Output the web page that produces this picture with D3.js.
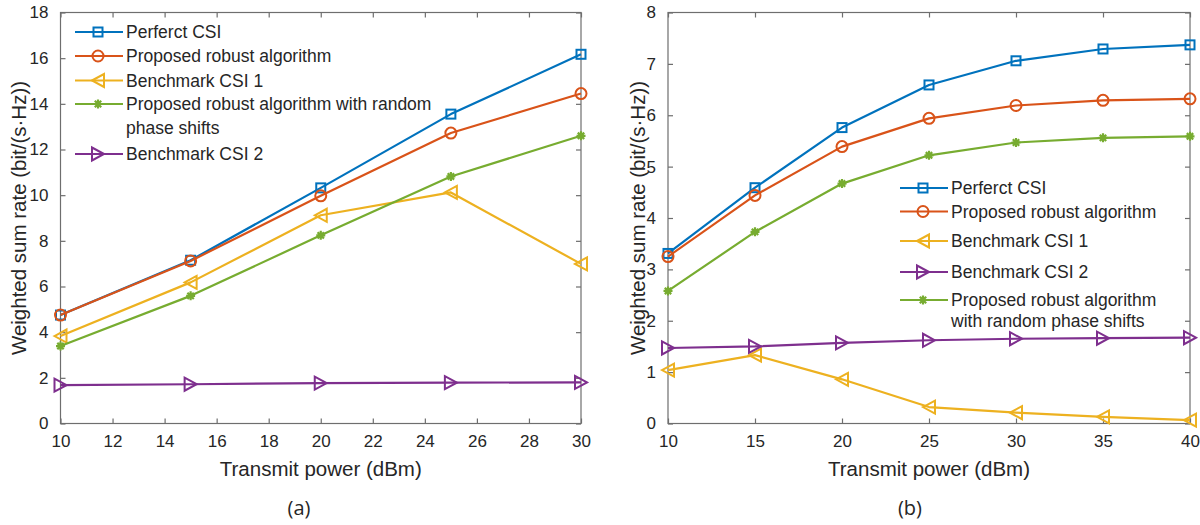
<!DOCTYPE html>
<html>
<head>
<meta charset="utf-8">
<script src="https://cdn.jsdelivr.net/npm/d3@7"></script>
<style>
  body { margin: 0; background: #fff; }
  svg { display: block; }
  .tick-label { font-family: "Liberation Sans", Arial, sans-serif; font-size: 17px; fill: #262626; }
  .axis-title { font-family: "Liberation Sans", Arial, sans-serif; font-size: 20.5px; fill: #262626; }
  .legend-text { font-family: "Liberation Sans", Arial, sans-serif; font-size: 17.5px; fill: #262626; }
  .sub-caption { font-family: "Open Sans", sans-serif; font-size: 20px; fill: #262626; }
</style>
</head>
<body>
<div id="chart-container"></div>
<script>
// ---- data ----
// panel (a)
var powerA = [10, 15, 20, 25, 30];
var perfectA = [4.75, 7.15, 10.32, 13.55, 16.17];
var proposedA = [4.75, 7.12, 9.97, 12.72, 14.45];
var bench1A = [3.83, 6.18, 9.12, 10.12, 6.99];
var randomA = [3.39, 5.59, 8.24, 10.82, 12.6];
var bench2A = [1.68, 1.72, 1.77, 1.79, 1.80];
var xTicksA = [10, 12, 14, 16, 18, 20, 22, 24, 26, 28, 30];
var yTicksA = [0, 2, 4, 6, 8, 10, 12, 14, 16, 18];

// panel (b)
var powerB = [10, 15, 20, 25, 30, 35, 40];
var perfectB = [3.31, 4.59, 5.76, 6.59, 7.06, 7.29, 7.37];
var proposedB = [3.25, 4.44, 5.39, 5.94, 6.19, 6.29, 6.32];
var bench1B = [1.04, 1.33, 0.86, 0.32, 0.21, 0.13, 0.065];
var bench2B = [1.47, 1.50, 1.57, 1.62, 1.65, 1.66, 1.67];
var randomB = [2.58, 3.73, 4.67, 5.22, 5.47, 5.56, 5.59];
var xTicksB = [10, 15, 20, 25, 30, 35, 40];
var yTicksB = [0, 1, 2, 3, 4, 5, 6, 7, 8];

// series names
var nPerfect = "Perferct CSI";
var nProposed = "Proposed robust algorithm";
var nBench1 = "Benchmark CSI 1";
var nBench2 = "Benchmark CSI 2";

var colors = {
    perfect: "#0072BD",
    proposed: "#D95319",
    bench1: "#EDB120",
    bench2: "#7E2F8E",
    random: "#77AC30"
};

var svg = d3.select("#chart-container")
    .append("svg")
    .attr("width", 1200)
    .attr("height", 525);

function drawMarker(g, shape, cx, cy, color) {
    if (shape == "square") {
        g.append("rect")
            .attr("x", cx - 4.5).attr("y", cy - 4.5)
            .attr("width", 9).attr("height", 9)
            .attr("fill", "none").attr("stroke", color).attr("stroke-width", 2);
    } else if (shape == "circle") {
        g.append("circle")
            .attr("cx", cx).attr("cy", cy).attr("r", 5.5)
            .attr("fill", "none").attr("stroke", color).attr("stroke-width", 2);
    } else if (shape == "left") {
        g.append("path")
            .attr("d", `M${cx - 6},${cy} L${cx + 6},${cy - 6.5} L${cx + 6},${cy + 6.5} Z`)
            .attr("fill", "none").attr("stroke", color).attr("stroke-width", 2);
    } else if (shape == "right") {
        g.append("path")
            .attr("d", `M${cx + 6},${cy} L${cx - 6},${cy - 6.5} L${cx - 6},${cy + 6.5} Z`)
            .attr("fill", "none").attr("stroke", color).attr("stroke-width", 2);
    } else if (shape == "star") {
        var r = 4.5, d = 3.2;
        g.append("path")
            .attr("d", `M${cx - r},${cy} L${cx + r},${cy} M${cx},${cy - r} L${cx},${cy + r} ` +
                       `M${cx - d},${cy - d} L${cx + d},${cy + d} M${cx - d},${cy + d} L${cx + d},${cy - d}`)
            .attr("fill", "none").attr("stroke", color).attr("stroke-width", 2.2);
    }
}

function drawPanel(p) {
    var xScale = d3.scaleLinear().domain(p.xDomain).range([p.left, p.right]);
    var yScale = d3.scaleLinear().domain(p.yDomain).range([p.bottom, p.top]);
    var g = svg.append("g");

    // box
    g.append("rect")
        .attr("x", p.left).attr("y", p.top)
        .attr("width", p.right - p.left).attr("height", p.bottom - p.top)
        .attr("fill", "none").attr("stroke", "#6e6e6e").attr("stroke-width", 1.2);

    // axes (ticks inward, mirrored on top / right)
    var tl = 5;
    g.append("g").attr("transform", `translate(0,${p.bottom})`)
        .call(d3.axisBottom(xScale).tickValues(p.xTicks).tickSize(-tl).tickPadding(11).tickFormat(d3.format("d")));
    g.append("g").attr("transform", `translate(0,${p.top})`)
        .call(d3.axisTop(xScale).tickValues(p.xTicks).tickSize(-tl).tickFormat(""));
    g.append("g").attr("transform", `translate(${p.left},0)`)
        .call(d3.axisLeft(yScale).tickValues(p.yTicks).tickSize(-tl).tickPadding(12).tickFormat(d3.format("d")));
    g.append("g").attr("transform", `translate(${p.right},0)`)
        .call(d3.axisRight(yScale).tickValues(p.yTicks).tickSize(-tl).tickFormat(""));
    g.selectAll(".domain").remove();
    g.selectAll(".tick line").attr("stroke", "#6e6e6e").attr("stroke-width", 1.2);
    g.selectAll(".tick text").attr("class", "tick-label").attr("font-size", null).attr("font-family", null).attr("fill", null);

    // series
    var line = d3.line().x(d => xScale(d[0])).y(d => yScale(d[1]));
    p.series.forEach(s => {
        var pts = p.x.map((xv, i) => [xv, s.values[i]]);
        g.append("path").datum(pts)
            .attr("d", line)
            .attr("fill", "none").attr("stroke", s.color).attr("stroke-width", 2.2)
            .attr("stroke-linejoin", "round");
        pts.forEach(pt => drawMarker(g, s.marker, xScale(pt[0]), yScale(pt[1]), s.color));
    });

    // legend
    p.legendOrder.forEach((s, i) => {
        var y = p.legendY[i];
        g.append("line")
            .attr("x1", p.legendX).attr("x2", p.legendX + 48)
            .attr("y1", y).attr("y2", y)
            .attr("stroke", s.color).attr("stroke-width", 2.2);
        drawMarker(g, s.marker, p.legendX + 23, y, s.color);
        var lines = s.legendLines || [s.name];
        lines.forEach((t, k) => {
            g.append("text").attr("class", "legend-text")
                .attr("x", p.legendX + 51)
                .attr("y", y + k * p.legendWrap)
                .attr("dy", "0.35em")
                .text(t);
        });
    });

    // axis titles
    g.append("text").attr("class", "axis-title")
        .attr("x", (p.left + p.right) / 2).attr("y", p.bottom + 45)
        .attr("dy", "0.35em")
        .attr("text-anchor", "middle")
        .text("Transmit power (dBm)");
    g.append("text").attr("class", "axis-title")
        .attr("transform", `translate(${p.yTitleX},${(p.top + p.bottom) / 2}) rotate(-90)`)
        .attr("text-anchor", "middle")
        .attr("dy", "0.35em")
        .text("Weighted sum rate (bit/(s\u00b7Hz))");

    // caption
    g.append("text").attr("class", "sub-caption")
        .attr("x", p.captionX).attr("y", 508)
        .attr("dy", "0.35em")
        .attr("text-anchor", "middle")
        .text(p.caption);
}

var sPerfectA = { name: nPerfect, values: perfectA, color: colors.perfect, marker: "square" };
var sProposedA = { name: nProposed, values: proposedA, color: colors.proposed, marker: "circle" };
var sBench1A = { name: nBench1, values: bench1A, color: colors.bench1, marker: "left" };
var sRandomA = { name: "", values: randomA, color: colors.random, marker: "star",
                 legendLines: ["Proposed robust algorithm with random", "phase shifts"] };
var sBench2A = { name: nBench2, values: bench2A, color: colors.bench2, marker: "right" };

drawPanel({
    left: 60.5, right: 581, top: 12.5, bottom: 423.5,
    xDomain: [10, 30], yDomain: [0, 18],
    xTicks: xTicksA, yTicks: yTicksA,
    x: powerA,
    series: [sPerfectA, sProposedA, sBench1A, sRandomA, sBench2A],
    legendOrder: [sPerfectA, sProposedA, sBench1A, sRandomA, sBench2A],
    legendX: 75, legendY: [32, 56, 80.5, 104, 154], legendWrap: 24,
    yTitleX: 19, captionX: 299, caption: "(a)"
});

var sPerfectB = { name: nPerfect, values: perfectB, color: colors.perfect, marker: "square" };
var sProposedB = { name: nProposed, values: proposedB, color: colors.proposed, marker: "circle" };
var sBench1B = { name: nBench1, values: bench1B, color: colors.bench1, marker: "left" };
var sBench2B = { name: nBench2, values: bench2B, color: colors.bench2, marker: "right" };
var sRandomB = { name: "", values: randomB, color: colors.random, marker: "star",
                 legendLines: ["Proposed robust algorithm", "with random phase shifts"] };

drawPanel({
    left: 668, right: 1190, top: 12.5, bottom: 423.5,
    xDomain: [10, 40], yDomain: [0, 8],
    xTicks: xTicksB, yTicks: yTicksB,
    x: powerB,
    series: [sPerfectB, sProposedB, sBench1B, sBench2B, sRandomB],
    legendOrder: [sPerfectB, sProposedB, sBench1B, sBench2B, sRandomB],
    legendX: 900, legendY: [188, 211.5, 241, 272, 300], legendWrap: 21,
    yTitleX: 638, captionX: 910, caption: "(b)"
});
</script>
</body>
</html>
